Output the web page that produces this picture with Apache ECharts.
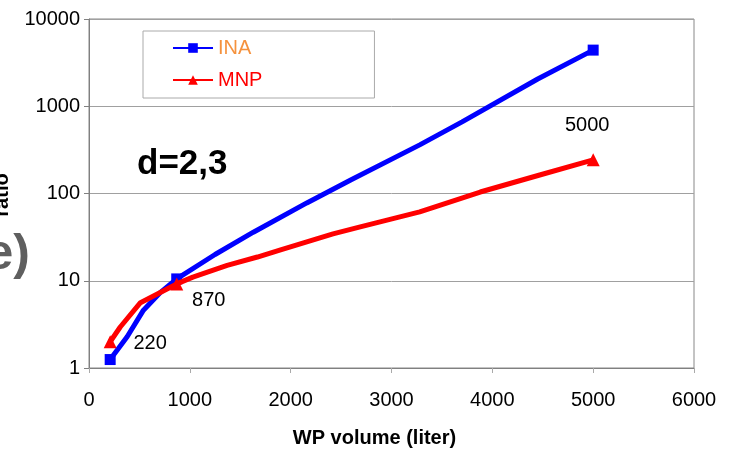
<!DOCTYPE html>
<html>
<head>
<meta charset="utf-8">
<script src="https://cdn.jsdelivr.net/npm/echarts@6/dist/echarts.min.js"></script>
<style>
  html, body { margin: 0; padding: 0; background: #fff; }
  #main { width: 740px; height: 449px; }
</style>
</head>
<body>
<div id="main"></div>
<script>
// data
var inaVolume = [210, 380, 540, 700, 870, 1250, 1630, 2160, 2600, 3280, 3700, 4450, 5000];
var inaRatio = [1.25, 2.3, 4.6, 7.2, 10.5, 20, 36, 78, 144, 361, 662, 2050, 4400];
var mnpVolume = [210, 310, 510, 870, 1030, 1370, 1670, 1900, 2420, 2690, 3280, 3880, 4470, 5000];
var mnpRatio = [2.0, 2.95, 5.6, 9.2, 11, 15, 18.7, 22.6, 34.5, 41.5, 61.6, 104, 163, 243];
var markedVolumes = [210, 870, 5000];
var pointLabels = ['220', '870', '5000'];
var xTicks = [0, 1000, 2000, 3000, 4000, 5000, 6000];
var yTicks = [1, 10, 100, 1000, 10000];

var FONT = '"Liberation Sans", Arial, sans-serif';
// where each point label sits relative to its MNP marker
var labelOffsets = [[40, 2], [32, 17], [-6, -34]];

function buildData(xs, ys, withLabels) {
  return xs.map(function (x, i) {
    var k = markedVolumes.indexOf(x);
    var item = { value: [x, ys[i]] };
    if (k < 0) {
      item.symbol = 'none';
    } else if (withLabels) {
      item.label = {
        show: true,
        position: 'inside',
        offset: labelOffsets[k],
        formatter: pointLabels[k],
        color: '#000',
        fontSize: 20,
        fontFamily: FONT
      };
    }
    return item;
  });
}

echarts.init(document.getElementById('main')).setOption({
  animation: false,
  backgroundColor: '#fff',
  grid: {
    left: 89, right: 46, top: 19, bottom: 81,
    outerBoundsMode: 'none',
    containLabel: false,
    show: true, borderColor: '#888', borderWidth: 1
  },
  legend: {
    orient: 'vertical',
    left: 143, top: 31,
    padding: [7, 112, 8, 29],
    itemGap: 12,
    itemWidth: 40,
    itemHeight: 12,
    lineStyle: { width: 2 },
    borderColor: '#aaa',
    borderWidth: 1,
    selectedMode: false,
    textStyle: { fontSize: 20, fontFamily: FONT, lineHeight: 20 },
    data: [
      { name: 'INA', textStyle: { color: '#F5923E' } },
      { name: 'MNP', textStyle: { color: '#ff0000' } }
    ]
  },
  graphic: [
    {
      type: 'text', x: 137, y: 164,
      style: { text: 'd=2,3', fontSize: 35, fontWeight: 'bold', fontFamily: FONT,
        fill: '#000', verticalAlign: 'middle' }
    },
    {
      type: 'text', x: 2, y: 195, rotation: Math.PI / 2,
      style: { text: 'ratio', fontSize: 20, fontWeight: 'bold', fontFamily: FONT,
        fill: '#000', align: 'center', verticalAlign: 'middle' }
    },
    {
      type: 'text', x: 30, y: 255,
      style: { text: 'e)', fontSize: 50, fontWeight: 'bold', fontFamily: FONT,
        fill: '#5f5f5f', align: 'right', verticalAlign: 'middle' }
    }
  ],
  xAxis: {
    type: 'value',
    min: xTicks[0],
    max: xTicks[xTicks.length - 1],
    interval: 1000,
    name: 'WP volume (liter)',
    nameLocation: 'middle',
    nameGap: 60,
    nameTextStyle: { fontSize: 20, fontWeight: 'bold', color: '#000', fontFamily: FONT,
      padding: [0, 34, 0, 0] },
    splitLine: { show: false },
    axisLine: { lineStyle: { color: '#808080' } },
    axisTick: { show: true, length: 5, lineStyle: { color: '#aaa' } },
    axisLabel: { color: '#000', fontSize: 20, fontFamily: FONT, margin: 22,
      formatter: function (v) { return String(v); } }
  },
  yAxis: {
    type: 'log',
    logBase: 10,
    min: yTicks[0],
    max: yTicks[yTicks.length - 1],
    splitLine: { show: true, lineStyle: { color: '#a0a0a0' } },
    axisLine: { show: true, lineStyle: { color: '#808080' } },
    axisTick: { show: true, length: 5, lineStyle: { color: '#808080' } },
    axisLabel: { color: '#000', fontSize: 20, fontFamily: FONT, margin: 9,
      formatter: function (v) { return String(Math.round(v)); } }
  },
  series: [
    {
      type: 'line',
      name: 'INA',
      symbol: 'rect',
      symbolSize: 11,
      showAllSymbol: true,
      color: '#0000ff',
      lineStyle: { width: 5, color: '#0000ff' },
      itemStyle: { color: '#0000ff' },
      data: buildData(inaVolume, inaRatio, false),
      z: 3
    },
    {
      type: 'line',
      name: 'MNP',
      symbol: 'triangle',
      symbolSize: 13,
      showAllSymbol: true,
      color: '#ff0000',
      lineStyle: { width: 5, color: '#ff0000' },
      itemStyle: { color: '#ff0000' },
      data: buildData(mnpVolume, mnpRatio, true),
      z: 4
    }
  ]
});
</script>
</body>
</html>
